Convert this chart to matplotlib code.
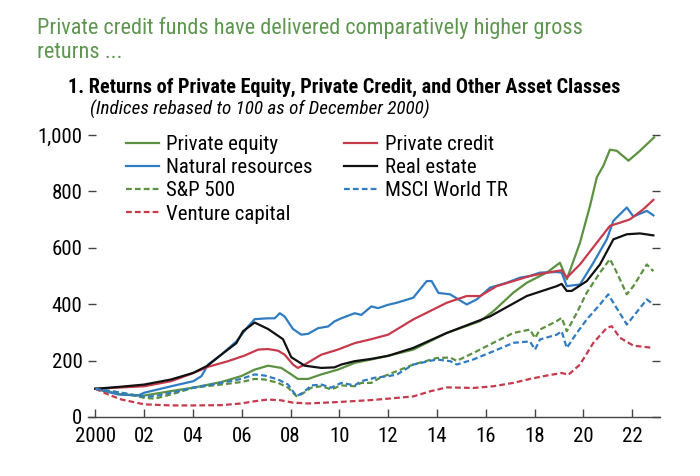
import matplotlib
matplotlib.use("Agg")
import matplotlib.pyplot as plt

plt.rcParams['font.family'] = ['Roboto Condensed', 'DejaVu Sans']

GREEN = '#5b9140'
RED = '#c63a4c'
BLUE = '#2f7cc2'
BLACK = '#111111'

# values (index, Dec 2000 = 100)
pe_x = [2000, 2001.07, 2002.0, 2003.11, 2004.02, 2005.16, 2005.98, 2006.53, 2007.08, 2007.62,
        2008.03, 2008.30, 2008.72, 2009.26, 2009.94, 2010.63, 2011.31, 2012.0, 2013.03, 2014.40,
        2015.77, 2016.31, 2017.13, 2017.68, 2018.50, 2019.04, 2019.32, 2019.86, 2020.27, 2020.55,
        2020.82, 2021.09, 2021.37, 2021.85, 2022.32, 2022.90]
pe_y = [100, 80, 76, 92, 104, 124, 145, 168, 182, 174,
        151, 135, 135, 151, 168, 192, 204, 217, 239, 298,
        340, 375, 441, 476, 512, 547, 488, 618, 748, 850,
        891, 948, 944, 909, 944, 992]

pc_x = [2000, 2002.0, 2003.11, 2004.02, 2004.62, 2005.44, 2006.12, 2006.67, 2007.08, 2007.49,
        2007.76, 2008.10, 2008.30, 2008.58, 2009.26, 2009.94, 2010.63, 2011.31, 2012.0, 2013.03,
        2014.40, 2015.22, 2015.77, 2016.45, 2017.13, 2017.81, 2018.50, 2019.11, 2019.32, 2019.86,
        2020.55, 2021.09, 2021.50, 2021.91, 2022.46, 2022.87]
pc_y = [100, 109, 127, 156, 178, 198, 218, 239, 241, 235,
        221, 186, 174, 186, 221, 239, 262, 276, 292, 346,
        405, 429, 429, 464, 482, 500, 512, 520, 494, 541,
        618, 678, 689, 701, 737, 770]

nr_x = [2000, 2000.93, 2001.75, 2002.0, 2003.11, 2004.02, 2004.35, 2004.62, 2005.16, 2005.78,
        2006.26, 2006.53, 2007.08, 2007.35, 2007.56, 2007.76, 2008.10, 2008.44, 2008.72, 2009.13,
        2009.54, 2009.80, 2010.08, 2010.63, 2010.90, 2011.31, 2011.59, 2012.0, 2012.35, 2013.03,
        2013.58, 2013.78, 2014.06, 2014.54, 2015.22, 2015.63, 2016.18, 2016.86, 2017.40, 2017.81,
        2018.22, 2018.91, 2019.11, 2019.32, 2019.86, 2020.41, 2020.96, 2021.23, 2021.78, 2022.05,
        2022.60, 2022.87]
nr_y = [100, 80, 76, 86, 109, 127, 145, 186, 221, 268,
        321, 347, 350, 350, 368, 356, 312, 292, 295, 315,
        321, 339, 350, 368, 362, 392, 386, 398, 405, 423,
        482, 482, 440, 435, 399, 417, 459, 476, 494, 500,
        512, 514, 512, 464, 470, 547, 630, 696, 743, 711,
        731, 715]

re_x = [2000, 2001.0, 2002.0, 2003.1, 2004.0, 2004.6, 2005.16, 2005.78, 2006.05, 2006.53,
        2007.08, 2007.69, 2008.03, 2008.58, 2009.26, 2009.80, 2010.08, 2010.63, 2011.3, 2012.0,
        2013.03, 2014.40, 2016.18, 2017.68, 2018.91, 2019.11, 2019.32, 2019.52, 2020.14, 2020.68,
        2021.23, 2021.78, 2022.32, 2022.87]
re_y = [100, 107, 115, 133, 156, 182, 221, 262, 304, 335,
        312, 276, 212, 182, 174, 176, 186, 198, 206, 217,
        245, 298, 357, 429, 464, 472, 447, 447, 482, 541,
        630, 648, 651, 644]

sp_x = [2000, 2001.07, 2002.0, 2002.43, 2003.11, 2004.02, 2005.16, 2005.98, 2006.53, 2006.94,
        2007.49, 2007.90, 2008.24, 2008.44, 2008.85, 2009.26, 2009.67, 2010.08, 2010.63, 2010.90,
        2011.31, 2011.67, 2013.03, 2013.99, 2014.54, 2014.81, 2015.49, 2016.31, 2017.13, 2017.81,
        2018.02, 2018.22, 2018.91, 2019.11, 2019.32, 2019.73, 2020.14, 2020.68, 2021.09, 2021.37,
        2021.78, 2022.05, 2022.60, 2022.87]
sp_y = [100, 86, 68, 65, 80, 104, 115, 124, 135, 133,
        121, 104, 74, 80, 104, 109, 98, 112, 109, 121,
        121, 139, 186, 209, 211, 199, 227, 263, 298, 310,
        280, 310, 340, 352, 304, 369, 441, 512, 560, 512,
        435, 464, 541, 517]

msci_x = [2000, 2001.07, 2002.0, 2002.43, 2003.11, 2004.02, 2005.16, 2005.98, 2006.53, 2006.94,
          2007.49, 2007.90, 2008.24, 2008.51, 2008.85, 2009.26, 2009.67, 2010.08, 2010.63, 2010.90,
          2011.45, 2012.0, 2012.35, 2013.03, 2013.99, 2014.54, 2014.81, 2015.49, 2016.31, 2017.13,
          2017.81, 2018.02, 2018.22, 2018.91, 2019.11, 2019.32, 2019.73, 2020.14, 2020.68, 2021.02,
          2021.23, 2021.78, 2022.05, 2022.60, 2022.87]
msci_y = [100, 86, 72, 74, 86, 104, 121, 135, 151, 147,
          133, 115, 74, 86, 112, 115, 104, 121, 112, 127,
          139, 145, 150, 186, 204, 198, 186, 204, 233, 263,
          268, 239, 275, 292, 304, 245, 298, 346, 399, 435,
          405, 328, 357, 417, 399]

vc_x = [2000, 2000.52, 2001.07, 2002.0, 2003.11, 2004.02, 2005.16, 2005.98, 2006.53, 2007.08,
        2007.62, 2008.10, 2008.72, 2009.94, 2011.31, 2012.0, 2013.03, 2013.72, 2014.40, 2015.49,
        2016.31, 2017.13, 2017.81, 2018.50, 2019.11, 2019.39, 2019.86, 2020.41, 2020.96, 2021.16,
        2021.50, 2022.05, 2022.87]
vc_y = [100, 80, 62, 45, 41, 41, 42, 48, 56, 62,
        59, 51, 48, 53, 60, 65, 73, 91, 105, 103,
        109, 121, 135, 147, 156, 150, 186, 263, 316, 322,
        281, 253, 245]

year_ticks = [2000, 2002, 2004, 2006, 2008, 2010, 2012, 2014, 2016, 2018, 2020, 2022]
year_labels = ['2000', '02', '04', '06', '08', '10', '12', '14', '16', '18', '20', '22']
value_ticks = [0, 200, 400, 600, 800, 1000]
value_labels = ['0', '200', '400', '600', '800', '1,000']

fig = plt.figure(figsize=(7, 4.76), dpi=100)
ax = fig.add_axes([88 / 700, 1 - 417 / 476, 572 / 700, 282 / 476])

lw = 1.6
dash = (2.6, 1.4)
ax.plot(pe_x, pe_y, color=GREEN, lw=lw, label='Private equity')
ax.plot(nr_x, nr_y, color=BLUE, lw=lw, label='Natural resources')
ax.plot(sp_x, sp_y, color=GREEN, lw=lw, dashes=dash, label='S&P 500')
ax.plot(vc_x, vc_y, color=RED, lw=lw, dashes=dash, label='Venture capital')
ax.plot(pc_x, pc_y, color=RED, lw=lw, label='Private credit')
ax.plot(re_x, re_y, color=BLACK, lw=lw, label='Real estate')
ax.plot(msci_x, msci_y, color=BLUE, lw=lw, dashes=dash, label='MSCI World TR')

ax.set_xlim(1999.70, 2023.14)
ax.set_ylim(0, 1000)
ax.set_xticks(year_ticks)
ax.set_xticklabels(year_labels)
ax.set_yticks(value_ticks)
ax.set_yticklabels(value_labels)

for s in ['top', 'left', 'right']:
    ax.spines[s].set_visible(False)
ax.spines['bottom'].set_color('#444444')
ax.spines['bottom'].set_linewidth(1.0)

ax.tick_params(axis='x', direction='in', length=6, width=1, color='#444444',
               labelsize=15, pad=7)
ax.tick_params(axis='y', direction='in', length=6, width=1, color='#444444',
               labelsize=15, pad=4, right=True)

ax.legend(ncol=2, loc='upper left', bbox_to_anchor=(0.066, 1.0), frameon=False,
          fontsize=15, handlelength=1.6, handletextpad=0.35, columnspacing=1.5,
          labelspacing=0.2, borderpad=0, borderaxespad=0)

fig.text(37 / 700, 1 - 34 / 476, 'Private credit funds have delivered comparatively higher gross',
         color='#5e9650', fontsize=16, va='baseline')
fig.text(37 / 700, 1 - 58 / 476, 'returns ...', color='#5e9650', fontsize=16, va='baseline')
fig.text(68 / 700, 1 - 93 / 476,
         '1. Returns of Private Equity, Private Credit, and Other Asset Classes',
         fontsize=14.6, fontweight='bold', va='baseline')
fig.text(90 / 700, 1 - 114.5 / 476, '(Indices rebased to 100 as of December 2000)',
         fontsize=13.8, style='italic', va='baseline')

fig.savefig('out.png', dpi=100)
